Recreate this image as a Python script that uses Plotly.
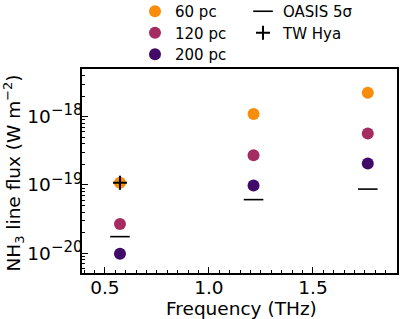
import plotly.graph_objects as go

freq = [0.5725, 1.2145, 1.7636]
flux_60 = [1.08e-19, 1.10e-18, 2.25e-18]
flux_120 = [2.68e-20, 2.72e-19, 5.7e-19]
flux_200 = [9.8e-21, 9.8e-20, 2.07e-19]
oasis_5sigma = [1.75e-20, 6.1e-20, 8.7e-20]
twhya_freq = [0.5725]
twhya_flux = [1.08e-19]

ytickvals = [1e-20, 1e-19, 1e-18]
yticktext = ['10<sup><span style="font-size:15px">\u221220</span></sup>',
             '10<sup><span style="font-size:15px">\u221219</span></sup>',
             '10<sup><span style="font-size:15px">\u221218</span></sup>']
yminor = [m * 10.0 ** e for e in (-21, -20, -19, -18) for m in range(2, 10)]

colors = {"60": "#f98c0a", "120": "#a52c60", "200": "#420a68"}
FONT = "DejaVu Sans"
FS = 18.5

W, H = 400, 319
L, R, T, B = 82, 3, 69, 46
PH = H - T - B
PW = W - L - R

def legend_top(row_center):
    top = row_center - 14
    return (H - B - top) / PH

fig = go.Figure()
leg_names = ["legend", "legend2", "legend3"]
for i, (lab, ys) in enumerate([("60", flux_60), ("120", flux_120), ("200", flux_200)]):
    fig.add_trace(go.Scatter(x=freq, y=ys, mode="markers", name=f"{lab} pc",
                             marker=dict(size=12, color=colors[lab]), legend=leg_names[i]))
fig.add_trace(go.Scatter(x=freq, y=oasis_5sigma, mode="markers", name="OASIS 5\u03c3",
                         marker=dict(symbol="line-ew", size=14, line=dict(width=1.6, color="black")),
                         legend="legend4"))
fig.add_trace(go.Scatter(x=twhya_freq, y=twhya_flux, mode="markers", name="TW Hya",
                         marker=dict(symbol="cross-thin", size=10, line=dict(width=2, color="black")),
                         legend="legend5"))

rows = [9, 30.5, 52]
leg_common = dict(xref="container", yref="paper", xanchor="left", yanchor="top",
                  bgcolor="rgba(0,0,0,0)", font=dict(size=15))
fig.update_layout(
    width=W, height=H,
    margin=dict(l=L, r=R, t=T, b=B, autoexpand=False),
    paper_bgcolor="white", plot_bgcolor="white",
    font=dict(family=FONT, size=FS, color="black"),
    showlegend=True,
    legend=dict(x=135 / W, y=legend_top(rows[0]), **leg_common),
    legend2=dict(x=135 / W, y=legend_top(rows[1]), **leg_common),
    legend3=dict(x=135 / W, y=legend_top(rows[2]), **leg_common),
    legend4=dict(x=243 / W, y=legend_top(rows[0]), **leg_common),
    legend5=dict(x=243 / W, y=legend_top(rows[1]), **leg_common),
)
fig.update_xaxes(range=[0.39, 1.904], tickvals=[0.5, 1.0, 1.5], ticktext=["0.5", "1.0", "1.5"],
                 ticks="inside", ticklen=6, tickwidth=1.2, tickcolor="black",
                 minor=dict(dtick=0.05, tick0=0, ticks="inside", ticklen=3, tickcolor="black", tickwidth=1),
                 showline=True, linecolor="black", linewidth=1.5, mirror=True, showgrid=False, zeroline=False,
                 ticklabelstandoff=-3)
fig.update_yaxes(type="log", range=[-20.29, -17.30], tickvals=ytickvals, ticktext=yticktext,
                 ticks="inside", ticklen=6, tickwidth=1.2, tickcolor="black",
                 minor=dict(tickvals=yminor, ticks="inside", ticklen=3, tickcolor="black", tickwidth=1),
                 showline=True, linecolor="black", linewidth=1.5, mirror=True, showgrid=False, zeroline=False,
                 ticklabelstandoff=-6)

fig.add_annotation(text="Frequency (THz)", xref="paper", yref="paper",
                   x=(241.5 - L) / PW, y=(H - B - 308) / PH, xanchor="center", yanchor="middle",
                   showarrow=False, font=dict(size=FS))
fig.add_annotation(text="NH<sub>3</sub> line flux (W m<sup>\u22122</sup>)", xref="paper", yref="paper",
                   x=(14 - L) / PW, y=(H - B - 173.5) / PH, xanchor="center", yanchor="middle",
                   textangle=-90, showarrow=False, font=dict(size=FS))

fig.write_html("out.html", config={"displayModeBar": False},
               post_script="document.body.style.margin='0';")
